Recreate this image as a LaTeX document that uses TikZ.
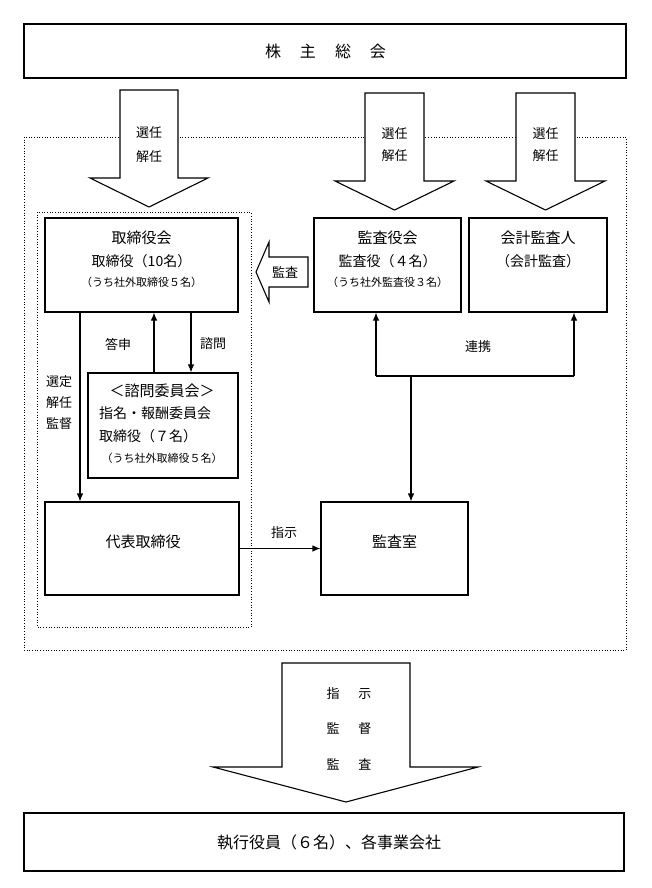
\documentclass[tikz,border=0pt]{standalone}
\usepackage{fontspec}
\setmainfont{Noto Sans CJK JP}
\usetikzlibrary{arrows.meta}
\begin{document}
\begin{tikzpicture}[x=1pt,y=-1pt,
  box/.style={draw, line width=1.1pt, fill=white, inner sep=0pt},
  dotbox/.style={draw, dotted, line width=0.7pt},
  barrow/.style={draw, line width=1.1pt, fill=white, line join=miter},
  arr/.style={line width=1.1pt, -{Latex[length=8pt,width=6.5pt]}},
  ln/.style={line width=1.1pt},
  tbig/.style={font=\fontsize{15}{18}\selectfont, inner sep=0pt},
  tmid/.style={font=\fontsize{14}{17}\selectfont, inner sep=0pt},
  tsm/.style={font=\fontsize{11}{13}\selectfont, inner sep=0pt},
  tlab/.style={font=\fontsize{13}{15}\selectfont, inner sep=0pt}]
\useasboundingbox (0,0) rectangle (651,888);
\fill[white] (0,0) rectangle (651,888);

% top box
\node[box, minimum width=602pt, minimum height=54pt] (gm) at (325,51) {};
\node[tbig, font=\fontsize{16}{18}\selectfont] (gmt) at (325.5,51) {株\hspace{19pt}主\hspace{19pt}総\hspace{19pt}会};

% dotted frames
\draw[dotbox] (24,137) rectangle (626,650);
\draw[dotbox] (37,212) rectangle (251,627);

% block arrows from general meeting
\draw[barrow] (120,90) -- (178,90) -- (178,178) -- (208,178) -- (149,207) -- (90,178) -- (120,178) -- cycle;
\draw[barrow] (365,93) -- (424,93) -- (424,181) -- (454,181) -- (394.5,210) -- (335,181) -- (365,181) -- cycle;
\draw[barrow] (516,93) -- (575,93) -- (575,181) -- (605,181) -- (545.5,210) -- (486,181) -- (516,181) -- cycle;
\node[tlab] (a1a) at (149,133) {選任};
\node[tlab] (a1b) at (149,157) {解任};
\node[tlab] (a2a) at (394.5,134) {選任};
\node[tlab] (a2b) at (394.5,156) {解任};
\node[tlab] (a3a) at (545.5,134) {選任};
\node[tlab] (a3b) at (545.5,156) {解任};

% boxes
\node[box, minimum width=193pt, minimum height=94pt] (board) at (141.5,265) {};
\node[tbig] (board1) at (141.5,238) {取締役会};
\node[tmid] (board2) at (141.5,261) {取締役（10名）};
\node[tsm] (board3) at (141.5,282) {（うち社外取締役５名）};

\node[box, minimum width=150pt, minimum height=105pt] (cmt) at (163,425.5) {};
\node[tbig] (cmt1) at (162,391) {＜諮問委員会＞};
\node[tmid, anchor=west] (cmt2) at (99,413) {指名・報酬委員会};
\node[tmid, anchor=west] (cmt3) at (99,436) {取締役（７名）};
\node[tsm] (cmt4) at (162,458) {（うち社外取締役５名）};

\node[box, minimum width=194pt, minimum height=93pt] (rep) at (142,548.5) {};
\node[tbig] (rept) at (143,542) {代表取締役};

\node[box, minimum width=147pt, minimum height=94pt] (aud) at (387.5,265) {};
\node[tbig] (aud1) at (387.5,238) {監査役会};
\node[tmid] (aud2) at (387.5,261) {監査役（４名）};
\node[tsm] (aud3) at (387.5,282) {（うち社外監査役３名）};

\node[box, minimum width=138pt, minimum height=94pt] (acc) at (538,265) {};
\node[tbig] (acc1) at (538,238) {会計監査人};
\node[tmid] (acc2) at (538,261) {（会計監査）};

\node[box, minimum width=147pt, minimum height=93pt] (room) at (394.5,548.5) {};
\node[tbig] (roomt) at (394.5,542) {監査室};

\node[box, minimum width=600pt, minimum height=58pt] (exec) at (324,842) {};
\node[tbig, font=\fontsize{16}{18}\selectfont, anchor=west] (exect) at (217,842) {執行役員（６名）、各事業会社};

% audit block arrow (left)
\draw[barrow] (256,272) -- (269,242) -- (269,257) -- (308,257) -- (308,287) -- (269,287) -- (269,302) -- cycle;
\node[tlab] (audlab) at (285,272) {監査};

% helper coordinates
\coordinate (x80) at (80,0);
\coordinate (x154) at (154,0);
\coordinate (x191) at (191,0);
\coordinate (jm) at (411,376);
\coordinate (jl) at (376,376);
\coordinate (jr) at (574,376);

% connectors
\draw[arr] (board.south -| x80) -- (rep.north -| x80);
\node[tlab] (l1) at (59,382) {選定};
\node[tlab] (l2) at (59,403) {解任};
\node[tlab] (l3) at (59,424) {監督};

\draw[arr] (cmt.north -| x154) -- (board.south -| x154);
\node[tlab] (l4) at (118,344) {答申};
\draw[arr] (board.south -| x191) -- (cmt.north -| x191);
\node[tlab] (l5) at (213,344) {諮問};

\draw[arr] (rep.east) -- (room.west);
\node[tlab] (l6) at (284,533) {指示};

\draw[ln] (jl) -- (jr);
\draw[arr] (jl) -- (aud.south -| jl);
\draw[arr] (jr) -- (acc.south -| jr);
\draw[arr] (jm) -- (room.north -| jm);
\node[tlab] (l7) at (478,347) {連携};

% bottom block arrow
\draw[barrow] (282,663) -- (410,663) -- (410,767) -- (478,767) -- (346,802) -- (213,767) -- (282,767) -- cycle;
\node[tlab] (b1) at (349,694) {指\hspace{19pt}示};
\node[tlab] (b2) at (349,729) {監\hspace{19pt}督};
\node[tlab] (b3) at (349,764) {監\hspace{19pt}査};
\end{tikzpicture}
\end{document}
